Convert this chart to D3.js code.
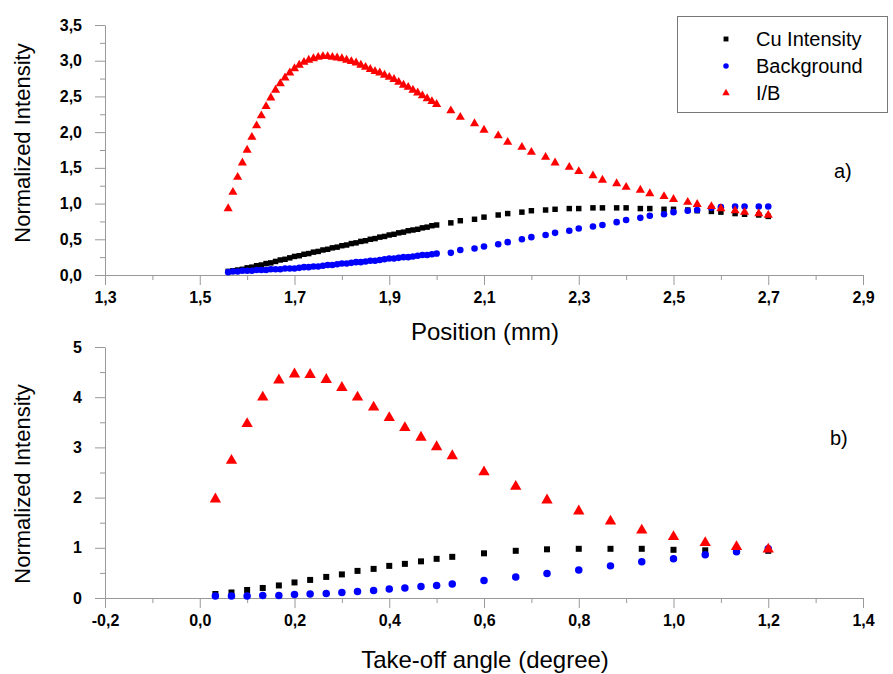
<!DOCTYPE html>
<html>
<head>
<meta charset="utf-8">
<script src="https://cdn.jsdelivr.net/npm/d3@7"></script>
<style>
  body { margin: 0; background: #fff; }
  svg { font-family: "Liberation Sans", Arial, sans-serif; }
  .axis path, .axis line { stroke: #999; }
  .axis text { font-family: "Liberation Sans", Arial, sans-serif; font-weight: bold; font-size: 16px; fill: #000; }
</style>
</head>
<body>
<svg id="chart" width="893" height="674"></svg>
<script>
// panel a) position scan
const posX = [1.56, 1.57, 1.58, 1.59, 1.60, 1.61, 1.62, 1.63, 1.64, 1.65, 1.66, 1.67, 1.68, 1.69, 1.70,
  1.71, 1.72, 1.73, 1.74, 1.75, 1.76, 1.77, 1.78, 1.79, 1.80, 1.81, 1.82, 1.83, 1.84, 1.85,
  1.86, 1.87, 1.88, 1.89, 1.90, 1.91, 1.92, 1.93, 1.94, 1.95, 1.96, 1.97, 1.98, 1.99, 2.00,
  2.03, 2.05, 2.08, 2.10, 2.13, 2.15, 2.18, 2.20, 2.23, 2.25, 2.28, 2.30, 2.33, 2.35,
  2.38, 2.40, 2.43, 2.45, 2.48, 2.50, 2.53, 2.55, 2.58, 2.60, 2.63, 2.65, 2.68, 2.70];
const posCu = [0.05, 0.06, 0.07, 0.08, 0.10, 0.11, 0.13, 0.14, 0.16, 0.17, 0.19, 0.21, 0.22, 0.24, 0.26,
  0.27, 0.29, 0.30, 0.32, 0.33, 0.35, 0.36, 0.38, 0.39, 0.41, 0.42, 0.44, 0.45, 0.47, 0.48,
  0.50, 0.51, 0.53, 0.54, 0.56, 0.57, 0.59, 0.60, 0.62, 0.63, 0.64, 0.66, 0.67, 0.69, 0.70,
  0.73, 0.76, 0.78, 0.81, 0.84, 0.86, 0.88, 0.90, 0.91, 0.92, 0.93, 0.93, 0.94, 0.94,
  0.94, 0.94, 0.93, 0.93, 0.92, 0.92, 0.91, 0.90, 0.89, 0.88, 0.86, 0.85, 0.84, 0.82];
const posBg = [0.04, 0.05, 0.05, 0.06, 0.06, 0.06, 0.07, 0.07, 0.07, 0.08, 0.08, 0.08, 0.09, 0.09, 0.09,
  0.10, 0.11, 0.11, 0.12, 0.12, 0.13, 0.14, 0.14, 0.15, 0.16, 0.16, 0.17, 0.18, 0.18, 0.19,
  0.20, 0.20, 0.21, 0.22, 0.23, 0.23, 0.24, 0.25, 0.25, 0.26, 0.27, 0.28, 0.28, 0.29, 0.30,
  0.31, 0.35, 0.37, 0.40, 0.43, 0.46, 0.50, 0.53, 0.56, 0.59, 0.62, 0.65, 0.68, 0.70,
  0.74, 0.77, 0.80, 0.83, 0.85, 0.88, 0.90, 0.91, 0.94, 0.95, 0.96, 0.96, 0.96, 0.96];
const posIB = [0.93, 1.16, 1.37, 1.57, 1.75, 1.93, 2.09, 2.23, 2.36, 2.48, 2.59, 2.68, 2.76, 2.83, 2.89,
  2.94, 2.98, 3.01, 3.03, 3.05, 3.06, 3.06, 3.05, 3.04, 3.03, 3.01, 2.99, 2.97, 2.94, 2.91,
  2.88, 2.85, 2.83, 2.80, 2.77, 2.74, 2.70, 2.66, 2.63, 2.59, 2.55, 2.51, 2.47, 2.43, 2.39,
  2.30, 2.21, 2.12, 2.03, 1.95, 1.86, 1.79, 1.72, 1.65, 1.57, 1.51, 1.45, 1.39, 1.33,
  1.28, 1.23, 1.19, 1.14, 1.10, 1.06, 1.02, 0.99, 0.96, 0.93, 0.90, 0.88, 0.86, 0.84];

// panel b) take-off angle
const angX = [0.033, 0.067, 0.100, 0.133, 0.167, 0.200, 0.233, 0.267, 0.300, 0.333, 0.367, 0.400, 0.433,
  0.467, 0.500, 0.533, 0.600, 0.667, 0.733, 0.800, 0.867, 0.933, 1.000, 1.067, 1.133, 1.200];
const angCu = [0.08, 0.11, 0.16, 0.20, 0.25, 0.31, 0.36, 0.42, 0.47, 0.54, 0.58, 0.64, 0.68,
  0.73, 0.78, 0.82, 0.89, 0.94, 0.97, 0.98, 0.98, 0.98, 0.96, 0.95, 0.95, 0.94];
const angBg = [0.04, 0.04, 0.04, 0.05, 0.05, 0.07, 0.08, 0.09, 0.11, 0.13, 0.15, 0.18, 0.20,
  0.23, 0.25, 0.28, 0.35, 0.42, 0.49, 0.56, 0.64, 0.72, 0.78, 0.86, 0.92, 0.98];
const angIB = [1.97, 2.74, 3.47, 4.00, 4.34, 4.46, 4.45, 4.35, 4.19, 4.00, 3.80, 3.59, 3.39,
  3.20, 3.01, 2.83, 2.51, 2.22, 1.95, 1.73, 1.53, 1.35, 1.22, 1.10, 1.02, 0.97];

const seriesNames = ["Cu Intensity", "Background", "I/B"];
const seriesColors = ["#000000", "#0000ff", "#ff0000"];
const seriesShapes = [d3.symbolSquare, d3.symbolCircle, d3.symbolTriangle];

const xTicksA = [1.3, 1.5, 1.7, 1.9, 2.1, 2.3, 2.5, 2.7, 2.9];
const yTicksA = [0, 0.5, 1, 1.5, 2, 2.5, 3, 3.5];
const xTicksB = [-0.2, 0, 0.2, 0.4, 0.6, 0.8, 1.0, 1.2, 1.4];
const yTicksB = [0, 1, 2, 3, 4, 5];

const locale = d3.formatLocale({ decimal: ",", thousands: ".", grouping: [3], currency: ["", ""], minus: "-" });
const f1 = locale.format(".1f");
const f0 = locale.format("d");

const svg = d3.select("#chart");

function minorTicks(major) {
  const out = [];
  for (let i = 0; i < major.length - 1; i++) out.push((major[i] + major[i + 1]) / 2);
  return out;
}

function drawPanel(opts) {
  const x = d3.scaleLinear().domain(opts.xDomain).range([105, 863]);
  const y = d3.scaleLinear().domain(opts.yDomain).range([opts.bottom, opts.top]);

  // minor ticks
  svg.append("g").attr("class", "axis")
    .attr("transform", `translate(0,${opts.bottom})`)
    .call(d3.axisBottom(x).tickValues(minorTicks(opts.xTicks)).tickSize(5).tickFormat(""))
    .select(".domain").remove();
  svg.append("g").attr("class", "axis")
    .attr("transform", "translate(105,0)")
    .call(d3.axisLeft(y).tickValues(minorTicks(opts.yTicks)).tickSize(5).tickFormat(""))
    .select(".domain").remove();

  svg.append("g").attr("class", "axis")
    .attr("transform", `translate(0,${opts.bottom})`)
    .call(d3.axisBottom(x).tickValues(opts.xTicks).tickSize(10).tickSizeOuter(0).tickPadding(7).tickFormat(f1));
  svg.append("g").attr("class", "axis")
    .attr("transform", "translate(105,0)")
    .call(d3.axisLeft(y).tickValues(opts.yTicks).tickSize(10).tickSizeOuter(0).tickPadding(13).tickFormat(opts.yFormat));

  const sets = [opts.cu, opts.bg, opts.ib];
  const sizes = opts.sizes;
  sets.forEach((vals, i) => {
    svg.append("g").selectAll("path")
      .data(vals.map((v, j) => [opts.xs[j], v]))
      .enter()
      .append("path")
      .attr("transform", d => `translate(${x(d[0])},${y(d[1])})`)
      .attr("d", d3.symbol().type(seriesShapes[i]).size(sizes[i]))
      .attr("fill", seriesColors[i]);
  });

  svg.append("text")
    .attr("transform", `translate(30,${opts.yTitleY}) rotate(-90)`)
    .attr("text-anchor", "middle")
    .style("font-size", "22px")
    .text("Normalized Intensity");

  svg.append("text")
    .attr("x", 485)
    .attr("y", opts.xTitleY)
    .attr("text-anchor", "middle")
    .style("font-size", "24px")
    .text(opts.xTitle);

  svg.append("text")
    .attr("x", opts.tag[0])
    .attr("y", opts.tag[1])
    .style("font-size", "20px")
    .text(opts.tagText);
}

drawPanel({
  xDomain: [1.3, 2.9], yDomain: [0, 3.5], top: 25, bottom: 275,
  xTicks: xTicksA, yTicks: yTicksA, yFormat: f1,
  xs: posX, cu: posCu, bg: posBg, ib: posIB,
  sizes: [30, 34, 36],
  yTitleY: 143, xTitle: "Position (mm)", xTitleY: 340,
  tag: [834, 178], tagText: "a)"
});

drawPanel({
  xDomain: [-0.2, 1.4], yDomain: [0, 5], top: 347, bottom: 598,
  xTicks: xTicksB, yTicks: yTicksB, yFormat: f0,
  xs: angX, cu: angCu, bg: angBg, ib: angIB,
  sizes: [36, 44, 56],
  yTitleY: 484, xTitle: "Take-off angle (degree)", xTitleY: 668,
  tag: [830, 445], tagText: "b)"
});

// legend
const legend = svg.append("g");
legend.append("rect")
  .attr("x", 677.5).attr("y", 16.5).attr("width", 210).attr("height", 96)
  .attr("fill", "#fff").attr("stroke", "#777");
seriesNames.forEach((name, i) => {
  const ly = 39 + i * 27;
  legend.append("path")
    .attr("transform", `translate(726,${ly})`)
    .attr("d", d3.symbol().type(seriesShapes[i]).size(24))
    .attr("fill", seriesColors[i]);
  legend.append("text")
    .attr("x", 756).attr("y", ly + 7)
    .style("font-size", "20px")
    .text(name);
});
</script>
</body>
</html>
